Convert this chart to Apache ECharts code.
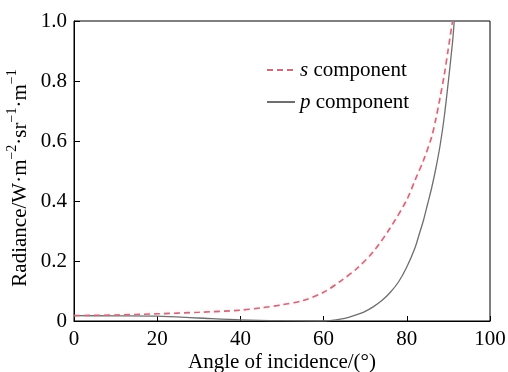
<!DOCTYPE html>
<html>
<head>
<meta charset="utf-8">
<script src="https://cdn.jsdelivr.net/npm/echarts@6/dist/echarts.min.js"></script>
<style>
  html, body { margin: 0; padding: 0; background: #fff; }
  #chart { width: 508px; height: 372px; }
</style>
</head>
<body>
<div id="chart"></div>
<script>
// Radiance of the s and p polarisation components versus angle of incidence
const sAngles = [0, 10, 20, 30, 40, 45, 50, 55, 60, 64, 68, 72, 76, 80, 82, 84, 86, 87, 88, 89, 90, 91];
const sValues = [0.018, 0.020, 0.024, 0.029, 0.036, 0.044, 0.054, 0.068, 0.096, 0.132, 0.175, 0.232, 0.31, 0.404, 0.47, 0.535, 0.615, 0.675, 0.745, 0.82, 0.91, 1.0];

const pAngles = [0, 10, 20, 30, 40, 50, 60, 62, 64, 66, 68, 70, 72, 74, 76, 78, 80, 82, 83, 84, 85, 86, 87, 88, 89, 90, 91, 91.4];
const pValues = [0.018, 0.017, 0.016, 0.010, 0.004, 0.001, 0.0, 0.002, 0.006, 0.012, 0.021, 0.032, 0.048, 0.068, 0.095, 0.13, 0.18, 0.245, 0.29, 0.335, 0.39, 0.445, 0.51, 0.585, 0.68, 0.80, 0.93, 1.0];

const xTicks = { min: 0, max: 100, step: 20 };
const yTicks = { min: 0, max: 1, step: 0.2 };

const FONT = "'Liberation Serif', 'Times New Roman', serif";

const pairs = (xs, ys) => xs.map((x, i) => [x, ys[i]]);

const chart = echarts.init(document.getElementById('chart'), null, { renderer: 'canvas' });

chart.setOption({
  backgroundColor: '#fff',
  animation: false,
  textStyle: { fontFamily: FONT },
  grid: {
    left: 74, right: 18, top: 21, bottom: 51,
    outerBoundsMode: 'none',
    containLabel: false,
    show: true, borderColor: '#000', borderWidth: 1, backgroundColor: 'transparent'
  },
  legend: {
    orient: 'vertical',
    left: 261, top: 53,
    itemWidth: 28, itemHeight: 10, itemGap: 8,
    itemStyle: { opacity: 0 },
    textStyle: {
      fontFamily: FONT, fontSize: 21, color: '#000', lineHeight: 24,
      rich: {
        i: { fontFamily: FONT, fontSize: 21, fontStyle: 'italic', color: '#000' },
        r: { fontFamily: FONT, fontSize: 21, color: '#000' }
      }
    },
    formatter: name => '{i|' + name.charAt(0) + '}{r|' + name.slice(1) + '}',
    data: ['s component', 'p component']
  },
  xAxis: {
    type: 'value',
    min: xTicks.min, max: xTicks.max, interval: xTicks.step,
    name: 'Angle of incidence/(°)',
    nameLocation: 'middle', nameGap: 31,
    nameMoveOverlap: false,
    nameTextStyle: { fontFamily: FONT, fontSize: 21, color: '#000' },
    axisLine: { show: true, lineStyle: { color: '#000', width: 1 } },
    axisTick: { show: true, inside: true, length: 5, lineStyle: { color: '#000' } },
    axisLabel: { fontFamily: FONT, fontSize: 21, color: '#000', margin: 8 },
    splitLine: { show: false }
  },
  yAxis: {
    type: 'value',
    min: yTicks.min, max: yTicks.max, interval: yTicks.step,
    name: '{n|Radiance/W·m}{s|−2}{n|·sr}{s|−1}{n|·m}{s|−1}',
    nameLocation: 'middle', nameGap: 43, nameRotate: 90,
    nameMoveOverlap: false,
    nameTextStyle: {
      fontFamily: FONT, fontSize: 21, color: '#000',
      padding: [0, 14, 0, 0],
      rich: {
        n: { fontFamily: FONT, fontSize: 21, color: '#000', lineHeight: 26, verticalAlign: 'bottom' },
        s: { fontFamily: FONT, fontSize: 14, color: '#000', lineHeight: 26, verticalAlign: 'top' }
      }
    },
    axisLine: { show: true, lineStyle: { color: '#000', width: 1 } },
    axisTick: { show: true, inside: true, length: 6, lineStyle: { color: '#000' } },
    axisLabel: {
      fontFamily: FONT, fontSize: 21, color: '#000', margin: 7,
      formatter: v => (v === 0 ? '0' : v.toFixed(1))
    },
    splitLine: { show: false }
  },
  series: [
    {
      name: 's component',
      type: 'line',
      data: pairs(sAngles, sValues),
      smooth: 0.3,
      symbol: 'none',
      lineStyle: {
        color: '#c2707f', width: 1.6, type: [6, 4],
        shadowColor: 'rgba(245,160,180,0.55)', shadowBlur: 3
      },
      itemStyle: { color: '#c2707f' },
      z: 3
    },
    {
      name: 'p component',
      type: 'line',
      data: pairs(pAngles, pValues),
      smooth: 0.3,
      symbol: 'none',
      lineStyle: { color: '#6e6e6e', width: 1.3, type: 'solid' },
      itemStyle: { color: '#6e6e6e' },
      z: 2
    }
  ]
});
</script>
</body>
</html>
